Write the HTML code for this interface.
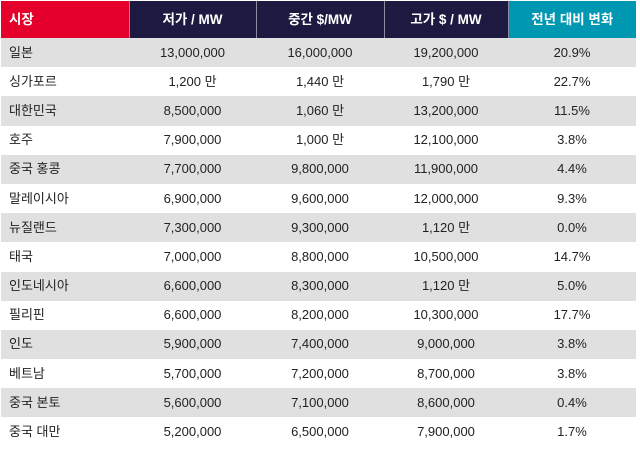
<!DOCTYPE html>
<html><head><meta charset="utf-8"><style>
body{margin:0;background:#fff;width:640px;height:453px;overflow:hidden;font-family:"Liberation Sans","Noto Sans CJK KR",sans-serif;}
table{border-collapse:collapse;position:absolute;left:1px;top:1px;width:635px;table-layout:fixed;}
th{height:37px;color:#fff;font-size:13.5px;font-weight:bold;text-align:center;padding:0;border-right:1px solid #8a8aa0;line-height:16px;}
th.r{background:#e4002b;text-align:left;padding-left:8px;}
th.n{background:#1c1a40;}
th.t{background:#0097b2;border-right:none;}
td{height:29.2px;padding:0;font-size:13px;line-height:16px;color:#222;text-align:center;overflow:hidden;}
td:first-child{text-align:left;padding-left:8px;}
tr.g td{background:#e0e0e0;}
</style></head><body>
<table>
<colgroup><col style="width:128px"><col style="width:127px"><col style="width:128px"><col style="width:124px"><col style="width:128px"></colgroup>
<tr><th class="r">시장</th><th class="n">저가 / MW</th><th class="n">중간 $/MW</th><th class="n">고가 $ / MW</th><th class="t">전년 대비 변화</th></tr>
<tr class="g"><td>일본</td><td>13,000,000</td><td>16,000,000</td><td>19,200,000</td><td>20.9%</td></tr>
<tr><td>싱가포르</td><td>1,200 만</td><td>1,440 만</td><td>1,790 만</td><td>22.7%</td></tr>
<tr class="g"><td>대한민국</td><td>8,500,000</td><td>1,060 만</td><td>13,200,000</td><td>11.5%</td></tr>
<tr><td>호주</td><td>7,900,000</td><td>1,000 만</td><td>12,100,000</td><td>3.8%</td></tr>
<tr class="g"><td>중국 홍콩</td><td>7,700,000</td><td>9,800,000</td><td>11,900,000</td><td>4.4%</td></tr>
<tr><td>말레이시아</td><td>6,900,000</td><td>9,600,000</td><td>12,000,000</td><td>9.3%</td></tr>
<tr class="g"><td>뉴질랜드</td><td>7,300,000</td><td>9,300,000</td><td>1,120 만</td><td>0.0%</td></tr>
<tr><td>태국</td><td>7,000,000</td><td>8,800,000</td><td>10,500,000</td><td>14.7%</td></tr>
<tr class="g"><td>인도네시아</td><td>6,600,000</td><td>8,300,000</td><td>1,120 만</td><td>5.0%</td></tr>
<tr><td>필리핀</td><td>6,600,000</td><td>8,200,000</td><td>10,300,000</td><td>17.7%</td></tr>
<tr class="g"><td>인도</td><td>5,900,000</td><td>7,400,000</td><td>9,000,000</td><td>3.8%</td></tr>
<tr><td>베트남</td><td>5,700,000</td><td>7,200,000</td><td>8,700,000</td><td>3.8%</td></tr>
<tr class="g"><td>중국 본토</td><td>5,600,000</td><td>7,100,000</td><td>8,600,000</td><td>0.4%</td></tr>
<tr><td>중국 대만</td><td>5,200,000</td><td>6,500,000</td><td>7,900,000</td><td>1.7%</td></tr>
</table>
</body></html>
